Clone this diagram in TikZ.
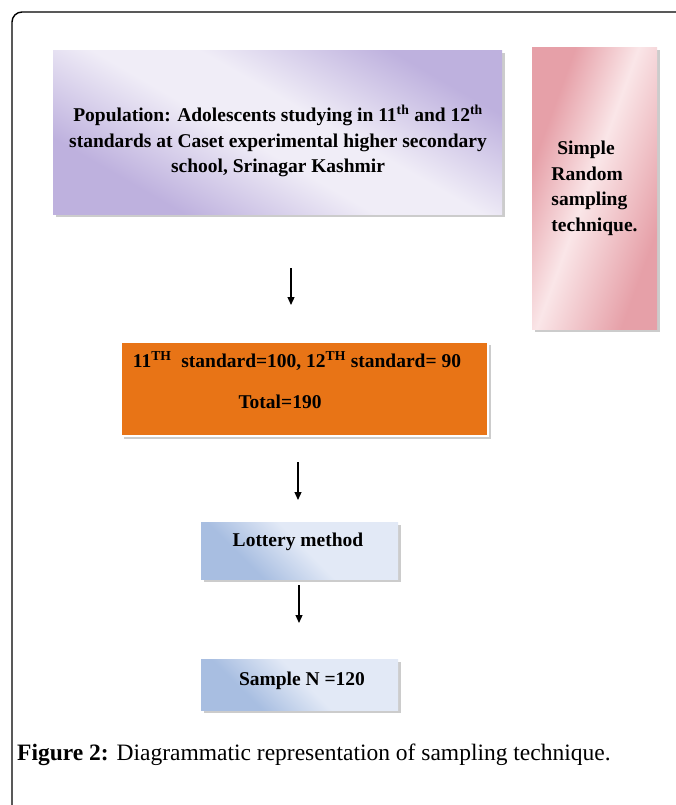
\documentclass[tikz,border=0pt]{standalone}
\usepackage{fontspec}
\setmainfont{Liberation Serif}
\usetikzlibrary{arrows.meta,shadows}

\definecolor{popdark}{RGB}{190,177,222}
\definecolor{poplight}{RGB}{240,237,247}
\definecolor{pinkdark}{RGB}{230,160,168}
\definecolor{pinklight}{RGB}{250,230,232}
\definecolor{orangefill}{RGB}{232,116,22}
\definecolor{bluedark}{RGB}{168,190,225}
\definecolor{bluelight}{RGB}{226,233,246}

\pgfdeclarehorizontalshading{popshade}{100bp}{color(0bp)=(popdark); color(28bp)=(popdark); color(46bp)=(poplight); color(56bp)=(poplight); color(74bp)=(popdark); color(100bp)=(popdark)}
\pgfdeclarehorizontalshading{pinkshade}{100bp}{color(0bp)=(pinkdark); color(30bp)=(pinkdark); color(48bp)=(pinklight); color(72bp)=(pinkdark); color(100bp)=(pinkdark)}
\pgfdeclarehorizontalshading{blueshade}{100bp}{color(0bp)=(bluedark); color(32bp)=(bluedark); color(52bp)=(bluelight); color(100bp)=(bluelight)}

\tikzset{
  boxshadow/.style={drop shadow={shadow xshift=2.5pt, shadow yshift=-2.5pt, fill=black!40}},
  popbox/.style={boxshadow, shading=popshade, shading angle=60, inner sep=0pt},
  pinkbox/.style={boxshadow, shading=pinkshade, shading angle=-20, inner sep=0pt},
  orangebox/.style={boxshadow, fill=orangefill, draw=white, line width=2pt, inner sep=0pt},
  bluebox/.style={boxshadow, shading=blueshade, shading angle=45, inner sep=0pt},
  boxtext/.style={font=\bfseries\fontsize{19.5}{25.5}\selectfont, inner sep=0pt, text=black},
  downarrow/.style={-{Triangle[length=8pt,width=7pt]}, line width=1.2pt}
}

\begin{document}
\begin{tikzpicture}[x=1pt,y=-1pt]
\useasboundingbox (0,0) rectangle (676,805);
% frame round the figure
\draw[line width=1.4pt, rounded corners=10pt] (12,810) -- (12,12) -- (680,12);
% boxes
\node[popbox, minimum width=449pt, minimum height=163pt] (pop) at (277.5,132.5) {};
\node[pinkbox, minimum width=125pt, minimum height=281pt] (method) at (594.5,188.5) {};
\node[orangebox, minimum width=367pt, minimum height=94pt] (count) at (304.5,389) {};
\node[bluebox, minimum width=197pt, minimum height=57pt] (lottery) at (299.5,550.5) {};
\node[bluebox, minimum width=197pt, minimum height=51pt] (sample) at (299.5,684.5) {};
% texts
\node[boxtext, align=center] (poptext) at (278,141)
  {Population: Adolescents studying in 11\textsuperscript{th} and 12\textsuperscript{th}\\
   standards at Caset experimental higher secondary\\
   school, Srinagar Kashmir};
\node[boxtext, align=left] (methodtext) at (method.center)
  {\hspace{0.3em}Simple\\Random\\sampling\\technique.};
\node[boxtext] (counttext) at (297,361)
  {11\textsuperscript{TH}\ \ standard=100, 12\textsuperscript{TH} standard= 90};
\node[boxtext] (totaltext) at (280,402) {Total=190};
\node[boxtext] (lotterytext) at (298,542) {Lottery method};
\node[boxtext] (sampletext) at (302,681) {Sample N =120};
% arrows
\coordinate (a1) at (291,268);
\coordinate (b1) at (291,305);
\coordinate (a2) at (298,462);
\coordinate (b2) at (298,500);
\coordinate (a3) at (299,585);
\coordinate (b3) at (299,623);
\draw[downarrow] (a1) -- (b1);
\draw[downarrow] (a2) -- (b2);
\draw[downarrow] (a3) -- (b3);
% caption
\node[anchor=west, inner sep=0pt, font=\fontsize{23.5}{28}\selectfont] (caption) at (17,755)
  {\textbf{Figure 2:} Diagrammatic representation of sampling technique.};
\end{tikzpicture}
\end{document}
